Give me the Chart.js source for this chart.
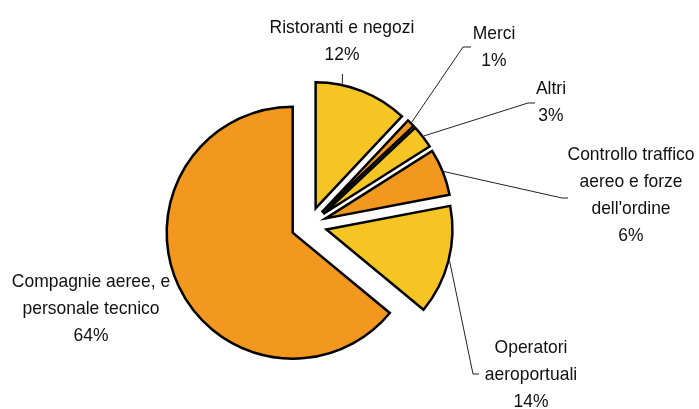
<!DOCTYPE html>
<html>
<head>
<meta charset="utf-8">
<script src="https://cdn.jsdelivr.net/npm/chart.js@4"></script>
<style>
  html, body { margin: 0; padding: 0; background: #fff; }
  #wrap { width: 699px; height: 409px; }
</style>
</head>
<body>
<div id="wrap"><canvas id="myChart"></canvas></div>
<script>
// data
const categories = [
    ["Ristoranti e negozi"],
    ["Merci"],
    ["Altri"],
    ["Controllo traffico", "aereo e forze", "dell'ordine"],
    ["Operatori", "aeroportuali"],
    ["Compagnie aeree, e", "personale tecnico"]
];
const shares = [12, 1, 3, 6, 14, 64];
const percentLabels = ["12%", "1%", "3%", "6%", "14%", "64%"];
const sliceColors = ["#F5C524", "#F3981F", "#F5C524", "#F3981F", "#F5C524", "#F3981F"];

// layout of the outside labels (text centre, leader polyline start, where on the slice it lands)
const labelLayout = [
    { x: 342, y: 28, leader: [[342.5, 74]], frac: 0.28 },
    { x: 494, y: 34, leader: [[471, 47], [463, 47]], frac: 0.5 },
    { x: 551, y: 89, leader: [[535, 103], [528, 103]], frac: 0.5 },
    { x: 631, y: 155, leader: [[568, 198], [562, 198]], frac: 0.5 },
    { x: 531, y: 348, leader: [[479, 374], [473, 374]], frac: 0.5 },
    { x: 91, y: 282, leader: null }
];
const EXPLODE = 18;
const LINE_H = 27;
// the original face is a narrow sans: squeeze Liberation Sans a little
const FONT = "19px 'Liberation Sans', Arial, sans-serif";
const SQUEEZE = 0.92;

// push every slice outward along its bisector, same radius for all
const explodePlugin = {
    id: 'explode',
    beforeDatasetDraw(chart, args) {
        const ctx = chart.ctx;
        args.meta.data.forEach(arc => {
            const mid = (arc.startAngle + arc.endAngle) / 2;
            ctx.save();
            ctx.translate(Math.cos(mid) * EXPLODE, Math.sin(mid) * EXPLODE);
            arc.draw(ctx);
            ctx.restore();
        });
        return false;
    }
};

const labelPlugin = {
    id: 'outsideLabels',
    afterDraw(chart) {
        const ctx = chart.ctx;
        const arcs = chart.getDatasetMeta(0).data;
        labelLayout.forEach((lay, i) => {
            const lines = categories[i].concat([percentLabels[i]]);
            ctx.save();
            ctx.font = FONT;
            ctx.fillStyle = "#111";
            ctx.textAlign = "center";
            ctx.textBaseline = "middle";
            ctx.translate(lay.x, lay.y);
            ctx.scale(SQUEEZE, 1);
            lines.forEach((t, k) => ctx.fillText(t, 0, k * LINE_H));
            ctx.restore();

            if (!lay.leader) return;
            const arc = arcs[i];
            const mid = (arc.startAngle + arc.endAngle) / 2;
            const a = arc.startAngle + lay.frac * (arc.endAngle - arc.startAngle);
            const cx = arc.x + Math.cos(mid) * EXPLODE;
            const cy = arc.y + Math.sin(mid) * EXPLODE;
            const r = arc.outerRadius + 1.2;
            ctx.save();
            ctx.beginPath();
            ctx.strokeStyle = "#222";
            ctx.lineWidth = 1;
            lay.leader.forEach((p, k) => k === 0 ? ctx.moveTo(p[0], p[1]) : ctx.lineTo(p[0], p[1]));
            ctx.lineTo(cx + Math.cos(a) * r, cy + Math.sin(a) * r);
            ctx.stroke();
            ctx.restore();
        });
    }
};

const ctx1 = document.getElementById('myChart');

new Chart(ctx1, {
    type: 'pie',
    data: {
        labels: categories.map(c => c.join(' ')),
        datasets: [{
            data: shares,
            backgroundColor: sliceColors,
            borderColor: "#000",
            borderWidth: 2.5,
            borderJoinStyle: 'miter'
        }]
    },
    options: {
        responsive: true,
        maintainAspectRatio: false,
        animation: false,
        radius: 126,
        layout: {
            padding: { left: 0, right: 81, top: 41, bottom: 0 }
        },
        plugins: {
            legend: { display: false },
            tooltip: { enabled: false }
        }
    },
    plugins: [explodePlugin, labelPlugin]
});
</script>
</body>
</html>
